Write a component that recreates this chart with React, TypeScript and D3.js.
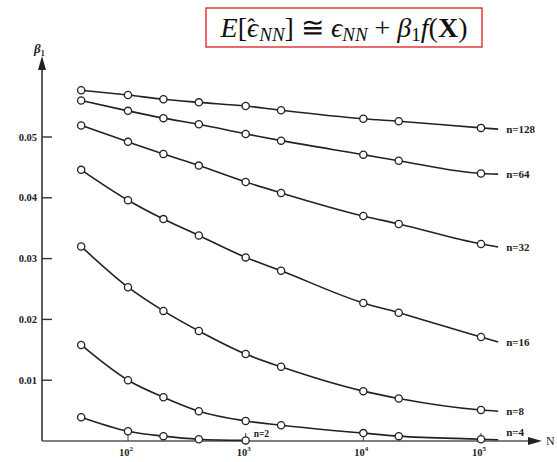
import React from "react";
import * as d3 from "d3";

// sample sizes N (log axis) and the short unmarked tail past the last point
const sampleN = [40, 100, 200, 400, 1000, 2000, 10000, 20000, 100000];
const tailN = 140000;

const seriesNames = ["n=128", "n=64", "n=32", "n=16", "n=8", "n=4", "n=2"];

const beta128 = [0.0577, 0.0569, 0.0562, 0.0557, 0.0551, 0.0544, 0.0530, 0.0526, 0.0515];
const beta64 = [0.0560, 0.0543, 0.0531, 0.0521, 0.0505, 0.0494, 0.0471, 0.0461, 0.0440];
const beta32 = [0.0519, 0.0492, 0.0472, 0.0453, 0.0426, 0.0408, 0.0370, 0.0357, 0.0324];
const beta16 = [0.0446, 0.0396, 0.0365, 0.0338, 0.0302, 0.0280, 0.0227, 0.0211, 0.0171];
const beta8 = [0.0320, 0.0253, 0.0214, 0.0181, 0.0143, 0.0122, 0.0082, 0.0070, 0.0051];
const beta4 = [0.0158, 0.0100, 0.0072, 0.0049, 0.0033, 0.0026, 0.0013, 0.0008, 0.0003];
const beta2 = [0.0039, 0.0016, 0.0008, 0.0003, 0.0001];

const tailValues = [0.0513, 0.0439, 0.0319, 0.0163, 0.0049, 0.0002, null];
// label nudges (px) so the n=4 label sits above the axis like the original
const labelDy = [4, 4, 4, 4, 4, -4, -3];

const yTicks = [0.01, 0.02, 0.03, 0.04, 0.05];
const xTicks = [100, 1000, 10000, 100000];
const xTickExp = ["2", "3", "4", "5"];

const allSeries = [beta128, beta64, beta32, beta16, beta8, beta4, beta2];

const W = 557, H = 462;
const ink = "#222";
const serif = "'Liberation Serif', 'DejaVu Serif', serif";

export default function App() {
  const x = d3.scaleLog().domain([100, 100000]).range([128, 481]);
  const y = d3.scaleLinear().domain([0, 0.05]).range([441, 137]);
  const x0 = 42, y0 = 441;

  const line = d3.line<[number, number]>()
    .x(d => x(d[0]))
    .y(d => y(d[1]))
    .curve(d3.curveMonotoneX);

  return (
    <svg width={W} height={H} style={{ position: "absolute", left: 0, top: 0, background: "#fff" }}>
      {/* title */}
      <rect x={206} y={8} width={276} height={39} fill="#fff" stroke="#e23a3a" strokeWidth={1.5} />
      <text x={344} y={37} textAnchor="middle" fontFamily={serif} fontSize={28} fill="#111">
        <tspan fontStyle="italic">E</tspan>
        <tspan>[</tspan>
        <tspan fontStyle="italic">{"\u03F5"}</tspan>
        <tspan dx={-11} dy={-2} fontSize={24}>{"\u02C6"}</tspan>
        <tspan fontStyle="italic" fontSize={19} dx={4} dy={6}>NN</tspan>
        <tspan dy={-4}>{"] \u2245 "}</tspan>
        <tspan fontStyle="italic">{"\u03F5"}</tspan>
        <tspan fontStyle="italic" fontSize={19} dy={4}>NN</tspan>
        <tspan dy={-4}>{" + "}</tspan>
        <tspan fontStyle="italic">{"\u03B2"}</tspan>
        <tspan fontSize={19} dy={4}>1</tspan>
        <tspan fontStyle="italic" dy={-4}>f</tspan>
        <tspan>(</tspan>
        <tspan fontWeight="bold">X</tspan>
        <tspan>)</tspan>
      </text>

      {/* y axis */}
      <line x1={x0} x2={x0} y1={y0} y2={66} stroke="#333" strokeWidth={1.6} />
      <path d={`M${x0},56 L${x0 - 4},70 L${x0 + 4},70 Z`} fill="#222" />
      <text x={34} y={53} fontFamily={serif} fontSize={13} fontWeight="bold" fontStyle="italic" fill={ink}>
        {"\u03B2"}<tspan fontSize={8} dy={3} fontStyle="normal">1</tspan>
      </text>
      {yTicks.map(t => (
        <g key={t}>
          <line x1={x0} x2={x0 + 10} y1={y(t)} y2={y(t)} stroke="#333" strokeWidth={1.4} />
          <text x={37} y={y(t) + 3.5} textAnchor="end" fontFamily={serif} fontSize={10.5} fontWeight="bold" fill={ink}>
            {d3.format(".2f")(t)}
          </text>
        </g>
      ))}

      {/* x axis */}
      <line x1={x0} x2={532} y1={y0} y2={y0} stroke="#555" strokeWidth={1.3} />
      <path d={`M542,${y0} L528,${y0 - 4} L528,${y0 + 4} Z`} fill="#222" />
      <text x={546} y={y0 + 4} fontFamily={serif} fontSize={12} fill={ink}>N</text>
      {xTicks.map((t, i) => (
        <g key={t}>
          <line x1={x(t)} x2={x(t)} y1={y0} y2={y0 - 8} stroke="#444" strokeWidth={1} />
          <text x={x(t) - 2} y={y0 + 15} textAnchor="middle" fontFamily={serif} fontSize={10.5} fontWeight="bold" fill={ink}>
            10<tspan fontSize={7} dy={-5}>{xTickExp[i]}</tspan>
          </text>
        </g>
      ))}

      {/* curves */}
      {allSeries.map((vals, si) => {
        const pts: [number, number][] = vals.map((v, i) => [sampleN[i], v]);
        const tail = tailValues[si];
        const full = tail != null ? [...pts, [tailN, tail] as [number, number]] : pts;
        const last = full[full.length - 1];
        const isN2 = seriesNames[si] === "n=2";
        return (
          <g key={seriesNames[si]}>
            <path d={line(full) || ""} fill="none" stroke={ink} strokeWidth={1.6} />
            {pts.map((p, i) => (
              <circle key={i} cx={x(p[0])} cy={y(p[1])} r={3.6} fill="#fff" stroke={ink} strokeWidth={1.3} />
            ))}
            <text
              x={x(last[0]) + 8}
              y={y(last[1]) + labelDy[si]}
              fontFamily={serif}
              fontSize={isN2 ? 9.5 : 11}
              fontWeight="bold"
              fill={ink}
            >
              {seriesNames[si]}
            </text>
          </g>
        );
      })}
    </svg>
  );
}
